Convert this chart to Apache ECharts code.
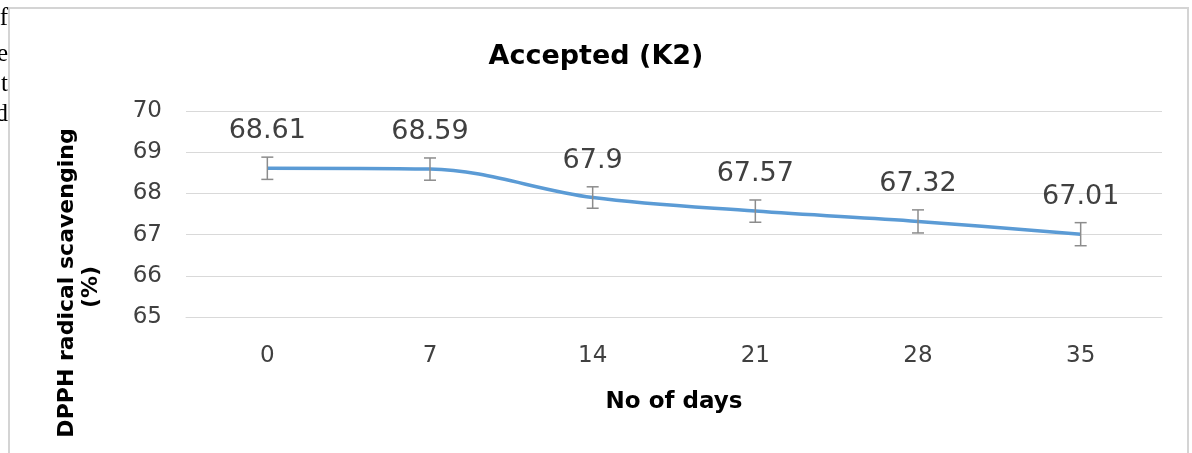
<!DOCTYPE html>
<html>
<head>
<meta charset="utf-8">
<script src="https://cdn.jsdelivr.net/npm/echarts@6/dist/echarts.min.js"></script>
<style>
html,body{margin:0;padding:0;background:#fff;}
#chart{width:1192px;height:453px;}
</style>
</head>
<body>
<div id="chart"></div>
<script>
const days = ['0', '7', '14', '21', '28', '35'];
const dpph = [68.61, 68.59, 67.9, 67.57, 67.32, 67.01];
const errors = [0.27, 0.27, 0.26, 0.27, 0.28, 0.28];
const yTicks = [65, 66, 67, 68, 69, 70];
const titleText = 'Accepted (K2)';
const xName = 'No of days';
const yName = ['DPPH radical scavenging', '(%)'];
const sideLetters = ['f', 'e', 't', 'd'];

const errData = dpph.map((v, i) => [i, v - errors[i], v + errors[i]]);
const chart = echarts.init(document.getElementById('chart'), null, {renderer: 'canvas'});
const F = 'DejaVu Sans';

chart.setOption({
  animation: false,
  backgroundColor: '#fff',
  title: {
    text: titleText, left: 'center', top: 38,
    textStyle: {fontFamily: F, fontSize: 27, fontWeight: 'bold', color: '#000'}
  },
  grid: {left: 186, right: 30, top: 111, bottom: 136},
  xAxis: {
    type: 'category', data: days, boundaryGap: true,
    axisLine: {lineStyle: {color: '#d9d9d9', width: 1}},
    axisTick: {show: false},
    axisLabel: {fontFamily: F, fontSize: 23, color: '#404040', margin: 28},
    name: xName, nameLocation: 'middle', nameGap: 74,
    nameTextStyle: {fontFamily: F, fontSize: 23, fontWeight: 'bold', color: '#000'}
  },
  yAxis: {
    type: 'value', min: yTicks[0], max: yTicks[yTicks.length - 1], interval: 1,
    axisLine: {show: false}, axisTick: {show: false},
    splitLine: {lineStyle: {color: '#d9d9d9', width: 1}},
    axisLabel: {fontFamily: F, fontSize: 23, color: '#404040', margin: 24}
  },
  graphic: [
    {type: 'rect', shape: {x: 9, y: 8, width: 1179, height: 470}, style: {fill: 'none', stroke: '#d4d4d4', lineWidth: 2}, silent: true},
    {type: 'text', x: 67, y: 283, rotation: Math.PI / 2,
      style: {text: yName[0], fontFamily: F, fontSize: 22, fontWeight: 'bold', fill: '#000', align: 'center', verticalAlign: 'middle'}},
    {type: 'text', x: 91, y: 287, rotation: Math.PI / 2,
      style: {text: yName[1], fontFamily: F, fontSize: 22, fontWeight: 'bold', fill: '#000', align: 'center', verticalAlign: 'middle'}},
    ...sideLetters.map((ch, i) => ({
      type: 'text', x: 8, y: [18, 54, 84, 114][i],
      style: {text: ch, fontFamily: 'Liberation Serif', fontSize: 25, fill: '#000', align: 'right', verticalAlign: 'middle'}
    }))
  ],
  series: [
    {
      type: 'line', data: dpph, smooth: 0.35, symbol: 'circle', symbolSize: 1, showSymbol: true,
      itemStyle: {color: 'rgba(0,0,0,0)'},
      lineStyle: {color: '#5b9bd5', width: 3.5},
      label: {show: true, position: 'top', distance: 23, fontFamily: F, fontSize: 27, color: '#404040'},
      z: 2
    },
    {
      type: 'custom', data: errData, z: 3,
      renderItem: function (params, api) {
        const x = api.value(0);
        const lo = api.coord([x, api.value(1)]);
        const hi = api.coord([x, api.value(2)]);
        const w = 6;
        const st = {stroke: '#8c8c8c', lineWidth: 1.5};
        return {type: 'group', children: [
          {type: 'line', shape: {x1: lo[0], y1: lo[1], x2: hi[0], y2: hi[1]}, style: st},
          {type: 'line', shape: {x1: lo[0] - w, y1: lo[1], x2: lo[0] + w, y2: lo[1]}, style: st},
          {type: 'line', shape: {x1: hi[0] - w, y1: hi[1], x2: hi[0] + w, y2: hi[1]}, style: st}
        ]};
      }
    }
  ]
});
</script>
</body>
</html>
